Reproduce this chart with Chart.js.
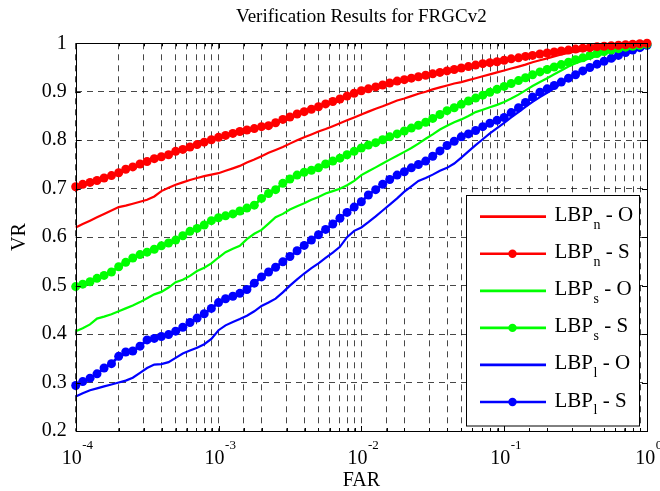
<!DOCTYPE html>
<html><head><meta charset="utf-8">
<script src="https://cdn.jsdelivr.net/npm/chart.js@4"></script>
<style>html,body{margin:0;padding:0;background:#fff}#wrap{width:660px;height:491px}</style>
</head><body><div id="wrap"><canvas id="c" width="660" height="491"></canvas></div>
<script>
// FAR sample positions (x)
const far = [
 1e-4,1.12e-4,1.26e-4,1.41e-4,1.58e-4,1.78e-4,2e-4,2.24e-4,2.51e-4,2.82e-4,3.16e-4,3.55e-4,3.98e-4,4.47e-4,5.01e-4,5.62e-4,6.31e-4,7.08e-4,7.94e-4,8.91e-4,
 1e-3,1.12e-3,1.26e-3,1.41e-3,1.58e-3,1.78e-3,2e-3,2.24e-3,2.51e-3,2.82e-3,3.16e-3,3.55e-3,3.98e-3,4.47e-3,5.01e-3,5.62e-3,6.31e-3,7.08e-3,7.94e-3,8.91e-3,
 1e-2,1.12e-2,1.26e-2,1.41e-2,1.58e-2,1.78e-2,2e-2,2.24e-2,2.51e-2,2.82e-2,3.16e-2,3.55e-2,3.98e-2,4.47e-2,5.01e-2,5.62e-2,6.31e-2,7.08e-2,7.94e-2,8.91e-2,
 1e-1,1.12e-1,1.26e-1,1.41e-1,1.58e-1,1.78e-1,2e-1,2.24e-1,2.51e-1,2.82e-1,3.16e-1,3.55e-1,3.98e-1,4.47e-1,5.01e-1,5.62e-1,6.31e-1,7.08e-1,7.94e-1,8.91e-1,
 1
];
const lbpnO = [0.620,0.627,0.634,0.641,0.648,0.655,0.662,0.665,0.669,0.673,0.677,0.684,0.695,0.702,0.708,0.713,0.718,0.722,0.726,0.729,0.732,0.737,0.742,0.747,0.754,0.760,0.767,0.774,0.780,0.786,0.793,0.800,0.806,0.812,0.818,0.823,0.829,0.835,0.841,0.847,0.853,0.859,0.865,0.870,0.876,0.882,0.886,0.891,0.896,0.900,0.905,0.909,0.913,0.917,0.920,0.924,0.928,0.932,0.936,0.940,0.944,0.948,0.952,0.956,0.961,0.965,0.969,0.973,0.977,0.980,0.983,0.985,0.987,0.989,0.991,0.993,0.995,0.996,0.997,0.999,1.000];
const lbpnS = [0.704,0.709,0.713,0.717,0.722,0.727,0.733,0.740,0.745,0.751,0.756,0.762,0.766,0.770,0.777,0.781,0.786,0.791,0.796,0.801,0.806,0.810,0.814,0.818,0.821,0.824,0.828,0.830,0.836,0.843,0.848,0.854,0.859,0.864,0.869,0.875,0.880,0.885,0.891,0.897,0.902,0.906,0.910,0.914,0.918,0.922,0.925,0.928,0.931,0.934,0.937,0.940,0.943,0.946,0.949,0.952,0.955,0.958,0.960,0.962,0.965,0.968,0.970,0.973,0.975,0.978,0.980,0.982,0.984,0.986,0.988,0.990,0.991,0.993,0.994,0.995,0.996,0.997,0.998,0.999,1.000];
const lbpsO = [0.406,0.412,0.420,0.432,0.436,0.441,0.447,0.453,0.459,0.466,0.474,0.482,0.487,0.496,0.507,0.512,0.520,0.530,0.537,0.546,0.558,0.569,0.576,0.582,0.596,0.607,0.615,0.628,0.641,0.648,0.657,0.664,0.670,0.677,0.683,0.690,0.695,0.700,0.707,0.716,0.728,0.736,0.744,0.752,0.760,0.768,0.776,0.784,0.793,0.803,0.812,0.822,0.830,0.837,0.843,0.850,0.858,0.863,0.868,0.873,0.879,0.886,0.894,0.903,0.912,0.920,0.928,0.936,0.944,0.952,0.959,0.964,0.969,0.974,0.979,0.984,0.988,0.991,0.994,0.997,1.000];
const lbpsS = [0.498,0.503,0.508,0.515,0.521,0.528,0.539,0.548,0.557,0.564,0.569,0.575,0.582,0.588,0.594,0.603,0.612,0.618,0.625,0.634,0.640,0.644,0.648,0.654,0.660,0.666,0.680,0.690,0.698,0.711,0.720,0.728,0.734,0.738,0.743,0.751,0.757,0.763,0.770,0.777,0.784,0.790,0.795,0.801,0.807,0.813,0.819,0.825,0.831,0.837,0.845,0.853,0.861,0.867,0.874,0.881,0.887,0.893,0.899,0.905,0.911,0.917,0.923,0.929,0.935,0.941,0.946,0.951,0.956,0.961,0.966,0.970,0.975,0.979,0.983,0.986,0.989,0.992,0.994,0.996,0.998];
const lbplO = [0.271,0.278,0.284,0.288,0.292,0.296,0.300,0.304,0.310,0.320,0.330,0.337,0.338,0.342,0.351,0.360,0.366,0.372,0.379,0.390,0.408,0.418,0.425,0.431,0.438,0.447,0.458,0.465,0.473,0.486,0.500,0.513,0.525,0.536,0.546,0.557,0.568,0.580,0.600,0.613,0.620,0.631,0.643,0.655,0.667,0.680,0.694,0.705,0.716,0.722,0.729,0.737,0.743,0.752,0.764,0.777,0.790,0.802,0.814,0.825,0.836,0.847,0.858,0.869,0.879,0.889,0.898,0.907,0.917,0.926,0.935,0.942,0.949,0.956,0.963,0.970,0.976,0.982,0.987,0.992,0.996];
const lbplS = [0.294,0.302,0.309,0.318,0.330,0.339,0.354,0.363,0.365,0.375,0.388,0.391,0.395,0.399,0.406,0.414,0.424,0.433,0.442,0.453,0.465,0.473,0.478,0.484,0.492,0.505,0.518,0.528,0.538,0.549,0.560,0.572,0.583,0.594,0.605,0.616,0.627,0.639,0.651,0.662,0.673,0.687,0.698,0.709,0.719,0.728,0.735,0.743,0.750,0.757,0.767,0.778,0.789,0.798,0.807,0.813,0.820,0.828,0.835,0.841,0.847,0.857,0.867,0.878,0.889,0.899,0.906,0.913,0.920,0.928,0.935,0.943,0.950,0.957,0.963,0.969,0.975,0.981,0.986,0.991,0.996];

const yTickLabels = ['0.2','0.3','0.4','0.5','0.6','0.7','0.8','0.9','1'];
const xTickBase = '10';
const xTickExps = ['-4','-3','-2','-1','0'];
const chartTitle = 'Verification Results for FRGCv2';
const xTitle = 'FAR';
const yTitle = 'VR';
const legendBase = 'LBP';
const legendSubs = ['n','n','s','s','l','l'];
const legendSuffix = [' - O',' - S',' - O',' - S',' - O',' - S'];
const seriesValues = [lbpnO, lbpnS, lbpsO, lbpsS, lbplO, lbplS];
const seriesColors = ['#ff0000','#ff0000','#00ff00','#00ff00','#0000ff','#0000ff'];
const seriesMarkers = [false,true,false,true,false,true];

const FONT = "'Liberation Serif', 'Times New Roman', serif";
Chart.defaults.font.family = FONT;
Chart.defaults.color = '#000';

const datasets = seriesValues.map((vals, i) => ({
  label: legendBase + legendSubs[i] + legendSuffix[i],
  data: far.map((f, j) => ({x: f, y: vals[j]})),
  borderColor: seriesColors[i],
  backgroundColor: seriesColors[i],
  borderWidth: seriesMarkers[i] ? 2.8 : 2.2,
  pointRadius: seriesMarkers[i] ? 4.5 : 0,
  pointBorderWidth: 0,
  pointHoverRadius: 0,
  tension: 0,
  clip: false
}));

const decor = {
  id: 'decor',
  afterDraw(chart) {
    const ctx = chart.ctx, a = chart.chartArea;
    const xs = chart.scales.x, ys = chart.scales.y;
    ctx.save();
    // inward ticks
    ctx.strokeStyle = '#000'; ctx.lineWidth = 1; ctx.setLineDash([]);
    ctx.beginPath();
    xs.ticks.forEach(t => {
      const p = Math.round(xs.getPixelForValue(t.value)) + 0.5;
      const lg = Math.log10(t.value);
      const len = Math.abs(lg - Math.round(lg)) < 1e-6 ? 5 : 3;
      ctx.moveTo(p, a.bottom); ctx.lineTo(p, a.bottom - len);
      ctx.moveTo(p, a.top); ctx.lineTo(p, a.top + len);
    });
    ys.ticks.forEach(t => {
      const p = Math.round(ys.getPixelForValue(t.value)) + 0.5;
      ctx.moveTo(a.left, p); ctx.lineTo(a.left + 5, p);
      ctx.moveTo(a.right, p); ctx.lineTo(a.right - 5, p);
    });
    ctx.stroke();
    // frame
    ctx.strokeRect(Math.round(a.left) + 0.5, Math.round(a.top) + 0.5, Math.round(a.right) - Math.round(a.left), Math.round(a.bottom) - Math.round(a.top));
    // x tick labels with superscript exponents
    ctx.fillStyle = '#000';
    ctx.textBaseline = 'alphabetic';
    ctx.textAlign = 'left';
    xTickExps.forEach((e, i) => {
      const v = Math.pow(10, -4 + i);
      const p = xs.getPixelForValue(v);
      ctx.font = '20px ' + FONT;
      const wb = ctx.measureText(xTickBase).width;
      ctx.font = '13px ' + FONT;
      const we = ctx.measureText(e).width;
      const x0 = p + 1.5 - (wb + we) / 2;
      ctx.font = '20px ' + FONT;
      ctx.fillText(xTickBase, x0, 463.5);
      ctx.font = '13px ' + FONT;
      ctx.fillText(e, x0 + wb + 0.5, 449);
    });
    // legend
    const L = 466, T = 195, R = 639, B = 425.5;
    ctx.fillStyle = '#fff';
    ctx.fillRect(L, T, R - L, B - T);
    ctx.strokeStyle = '#000'; ctx.lineWidth = 1;
    ctx.strokeRect(L + 0.5, T + 0.5, R - L, B - T);
    legendSubs.forEach((s, i) => {
      const y = 216.7 + i * 37.06;
      ctx.strokeStyle = seriesColors[i];
      ctx.lineWidth = 2.7;
      ctx.beginPath(); ctx.moveTo(480, y); ctx.lineTo(546, y); ctx.stroke();
      if (seriesMarkers[i]) {
        ctx.fillStyle = seriesColors[i];
        ctx.beginPath(); ctx.arc(512.5, y, 4.2, 0, Math.PI * 2); ctx.fill();
      }
      ctx.fillStyle = '#000';
      ctx.font = '21px ' + FONT;
      let x = 554.5;
      ctx.fillText(legendBase, x, y + 4.5);
      x += ctx.measureText(legendBase).width + 0.5;
      ctx.font = '14px ' + FONT;
      ctx.fillText(s, x, y + 12);
      x += ctx.measureText(s).width;
      ctx.font = '21px ' + FONT;
      ctx.fillText(legendSuffix[i], x, y + 4.5);
    });
    ctx.restore();
  }
};

new Chart(document.getElementById('c'), {
  type: 'line',
  data: { datasets },
  options: {
    responsive: false,
    animation: false,
    devicePixelRatio: 1,
    events: [],
    layout: { padding: { top: 0, right: 13, bottom: 0, left: 0 } },
    plugins: {
      legend: { display: false },
      tooltip: { enabled: false },
      title: {
        display: true, text: chartTitle, fullSize: false, color: '#000',
        font: { size: 19, weight: 'normal', lineHeight: 1.2 },
        padding: { top: 5.6, bottom: 14.9 }
      }
    },
    scales: {
      x: {
        type: 'logarithmic', min: 1e-4, max: 1,
        ticks: { autoSkip: false, maxRotation: 0, callback: () => '', font: { size: 20 } },
        grid: { drawTicks: false, color: 'rgba(0,0,0,0.72)', lineWidth: 1 },
        border: { display: false, dash: [6, 5] },
        title: { display: true, text: xTitle, color: '#000', font: { size: 20, lineHeight: 1 }, padding: 0 },
        afterFit: s => { s.height = 60; }
      },
      y: {
        type: 'linear', min: 0.2, max: 1,
        ticks: { stepSize: 0.1, padding: 9, color: '#000', font: { size: 20 }, callback: (v, i) => yTickLabels[i] },
        grid: { drawTicks: false, color: 'rgba(0,0,0,0.72)', lineWidth: 1 },
        border: { display: false, dash: [6, 5] },
        title: { display: true, text: yTitle, color: '#000', font: { size: 20, lineHeight: 1 }, padding: { top: 10, bottom: 0 } },
        afterFit: s => { s.width = 75.7; }
      }
    }
  },
  plugins: [decor]
});
</script>
</body></html>
